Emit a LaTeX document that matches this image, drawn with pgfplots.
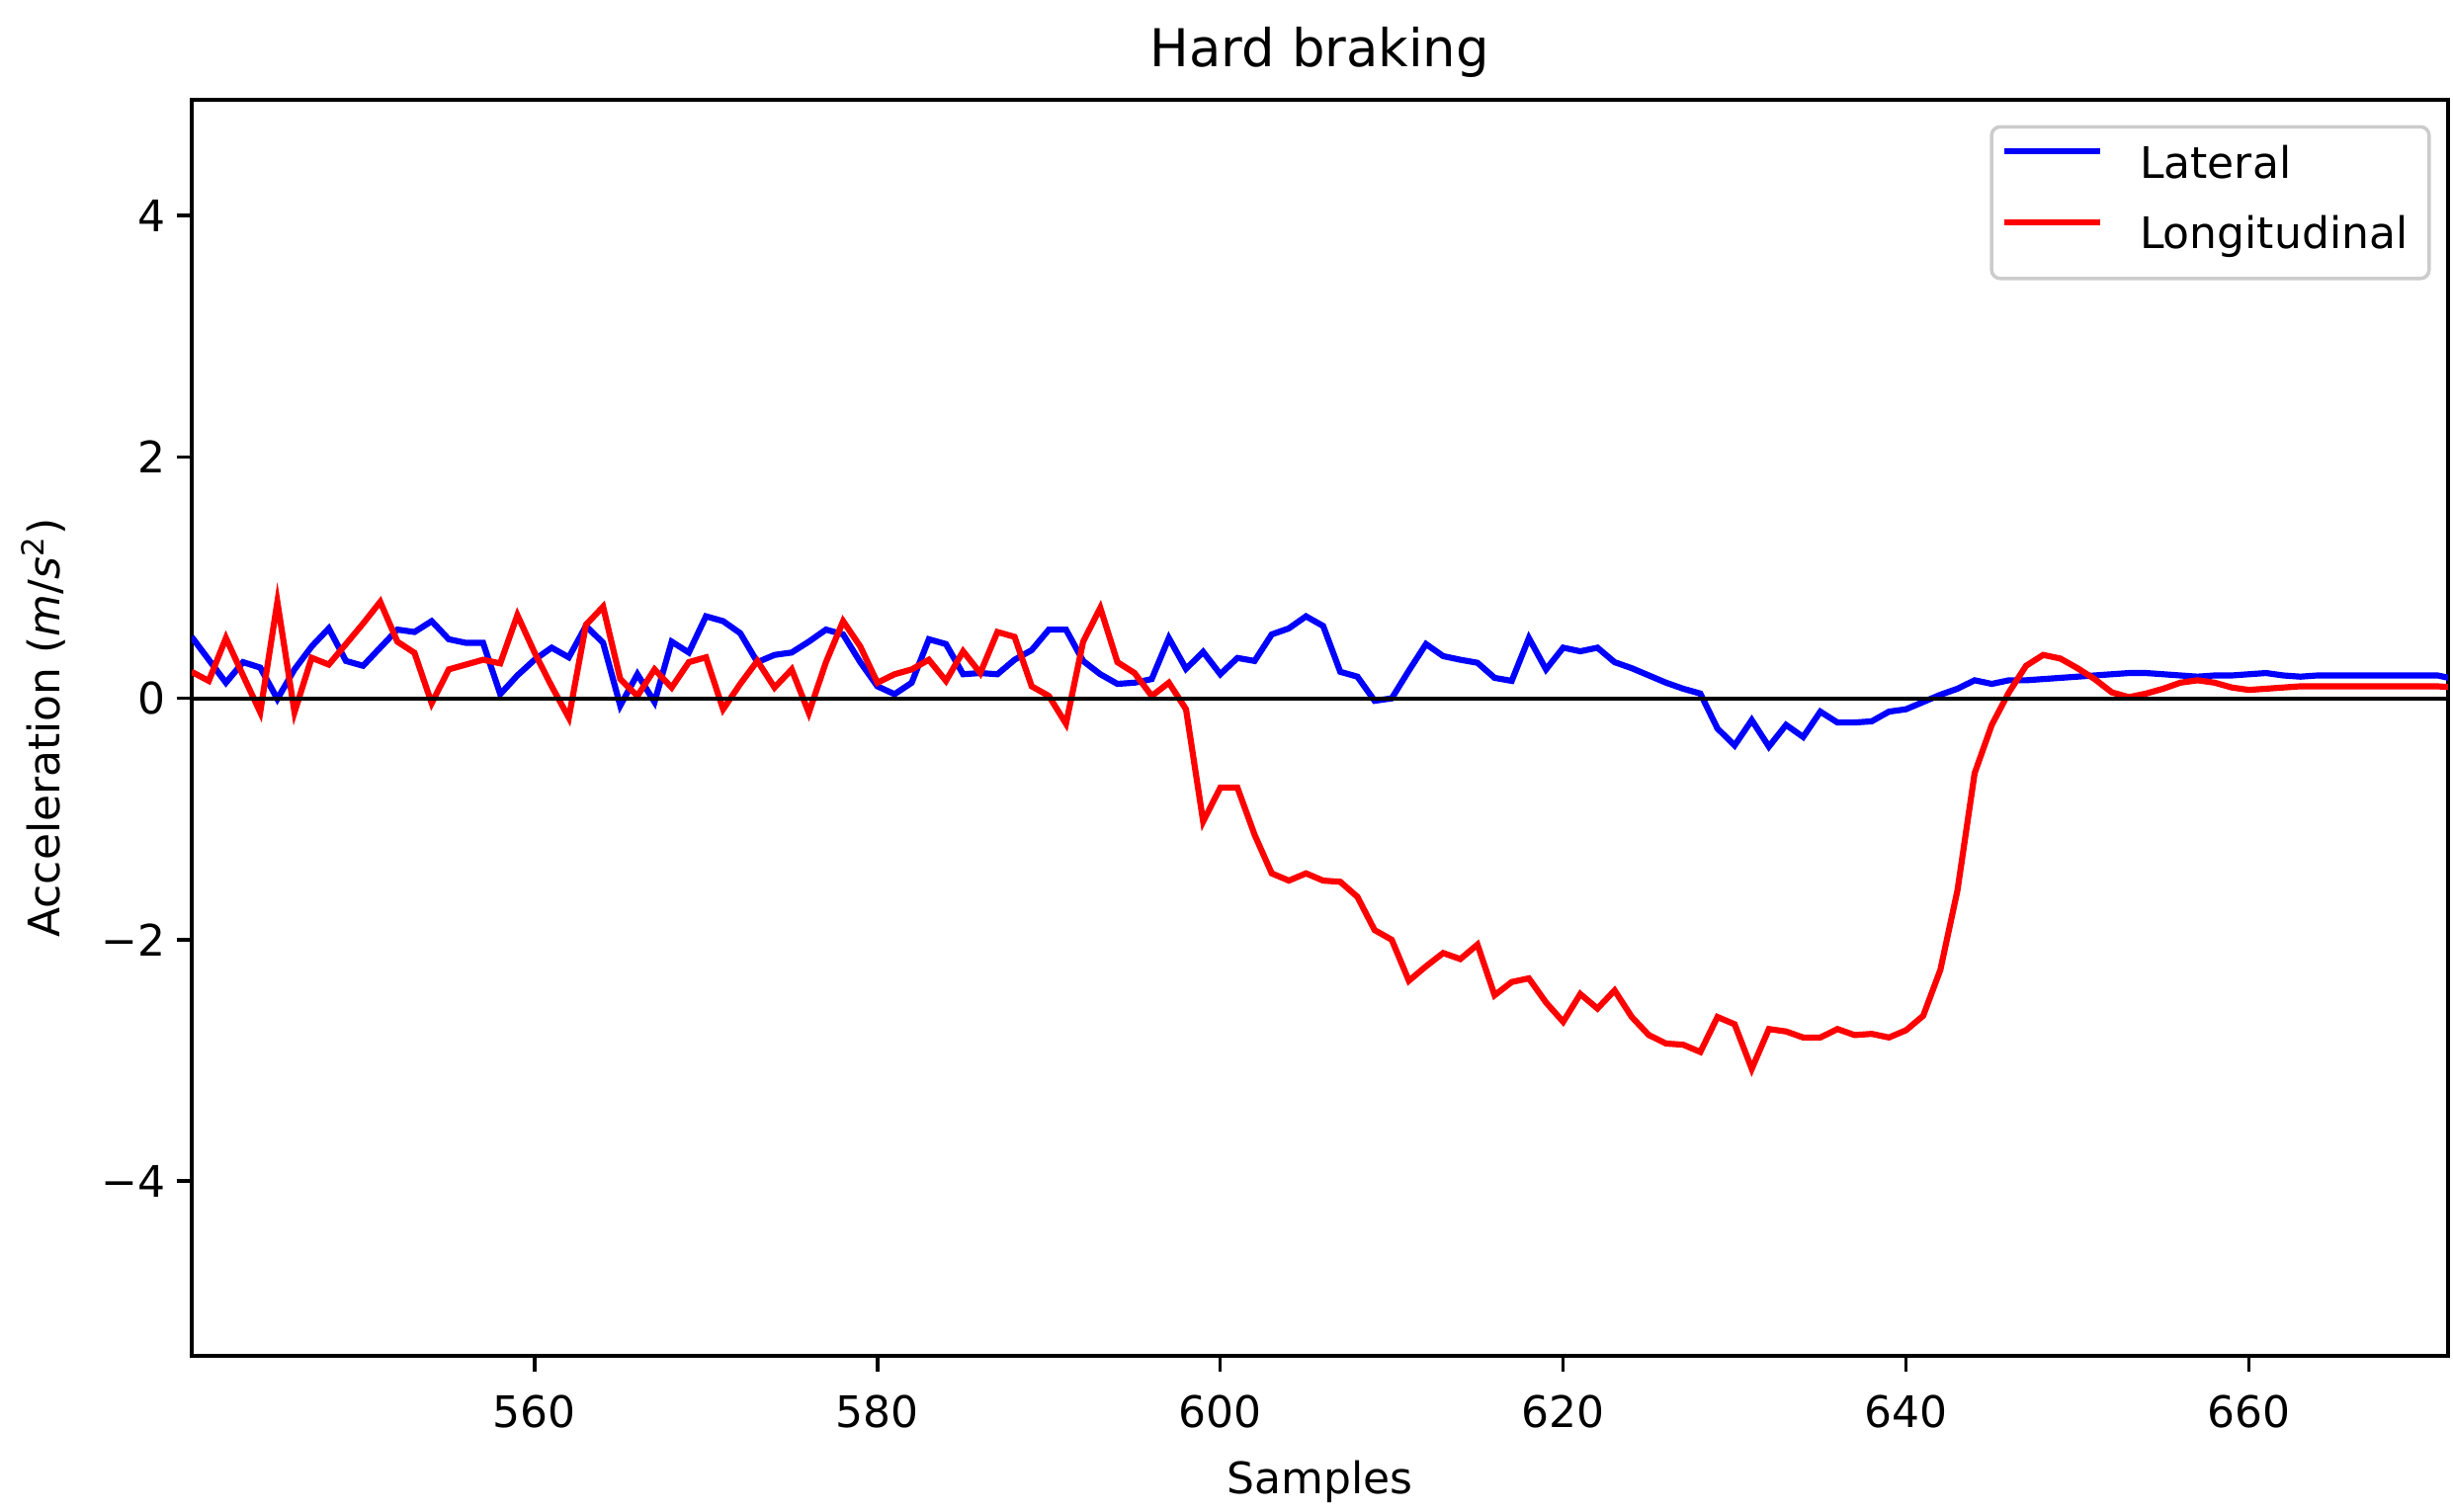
\documentclass[border=0pt]{standalone}
\usepackage{fontspec}
\setmainfont{DejaVu Sans}
\usepackage{pgfplots}
\pgfplotsset{compat=1.18}
\newcommand{\tenpt}{\fontsize{10}{12}\selectfont}
\begin{document}
\begin{tikzpicture}
\begin{axis}[
  scale only axis, width=518.8pt, height=288.9pt,
  xmin=540, xmax=671.6, ymin=-5.45, ymax=4.96,
  axis line style={black, line width=0.8pt},
  tick align=outside, xtick pos=left, ytick pos=left,
  major tick length=3.5pt,
  tick style={black, line width=0.8pt},
  xtick={560,580,600,620,640,660},
  xticklabels={560,580,600,620,640,660},
  ytick={-4,-2,0,2,4},
  yticklabels={−4,−2,0,2,4},
  xticklabel style={font=\tenpt, anchor=base, inner sep=0pt, yshift=-12.85pt},
  yticklabel style={font=\tenpt, anchor=east, inner sep=0pt, xshift=-2.4pt},
  title={Hard braking},
  title style={font=\fontsize{12}{14.4}\selectfont, at={(axis description cs:0.5,1)}, anchor=base, yshift=1.5pt, inner sep=0pt},
  xlabel={Samples},
  xlabel style={font=\tenpt, at={(axis description cs:0.5,0)}, anchor=base, yshift=-31.6pt, inner sep=0pt},
  ylabel={Acceleration (\textit{m}/\textit{s}\textsuperscript{2})},
  ylabel style={font=\tenpt, at={(axis description cs:-0.0657,0.5)}, anchor=center, inner sep=0pt},
  legend style={at={(1,1)}, anchor=north east, xshift=-3.9pt, yshift=-5.8pt,
    draw=black!20, line width=0.8pt, rounded corners=2pt, fill=white, fill opacity=0.8, text opacity=1,
    font=\tenpt, inner xsep=4.9pt, inner ysep=4.5pt, row sep=6.7pt, column sep=8.4pt,
    nodes={inner sep=0pt, text height=7.3pt, text depth=2.3pt}},
  legend cell align=left,
  legend image code/.code={\path (0pt,0pt) (19.4pt,0pt); \draw[#1, overlay] (-2.6pt,3.7pt) -- (19.4pt,3.7pt);},
]
\addplot[blue, line width=1.4pt] coordinates {
(540,0.51)(541,0.32)(542,0.13)(543,0.30)(544,0.255)(545,-0.005)(546,0.24)(547,0.43)(548,0.58)(549,0.31)
(550,0.27)(551,0.42)(552,0.57)(553,0.55)(554,0.64)(555,0.49)(556,0.46)(557,0.46)(558,0.035)(559,0.19)
(560,0.32)(561,0.42)(562,0.34)(563,0.60)(564,0.46)(565,-0.06)(566,0.2)(567,-0.03)(568,0.47)(569,0.38)
(570,0.68)(571,0.64)(572,0.54)(573,0.30)(574,0.36)(575,0.38)(576,0.47)(577,0.57)(578,0.53)(579,0.30)
(580,0.10)(581,0.035)(582,0.13)(583,0.49)(584,0.45)(585,0.2)(586,0.21)(587,0.2)(588,0.32)(589,0.40)
(590,0.57)(591,0.57)(592,0.31)(593,0.2)(594,0.12)(595,0.13)(596,0.16)(597,0.5)(598,0.245)(599,0.385)
(600,0.2)(601,0.335)(602,0.31)(603,0.53)(604,0.58)(605,0.68)(606,0.6)(607,0.22)(608,0.18)(609,-0.02)
(610,0.0)(611,0.23)(612,0.45)(613,0.35)(614,0.32)(615,0.295)(616,0.17)(617,0.145)(618,0.5)(619,0.24)
(620,0.42)(621,0.39)(622,0.42)(623,0.30)(624,0.25)(625,0.19)(626,0.13)(627,0.08)(628,0.04)(629,-0.25)
(630,-0.39)(631,-0.18)(632,-0.40)(633,-0.22)(634,-0.32)(635,-0.11)(636,-0.20)(637,-0.20)(638,-0.19)(639,-0.11)
(640,-0.09)(641,-0.03)(642,0.03)(643,0.08)(644,0.15)(645,0.12)(646,0.15)(647,0.15)(648,0.16)(649,0.17)
(650,0.18)(651,0.19)(652,0.2)(653,0.21)(654,0.21)(655,0.2)(656,0.19)(657,0.18)(658,0.19)(659,0.19)
(660,0.2)(661,0.21)(662,0.19)(663,0.18)(664,0.19)(665,0.19)(666,0.19)(667,0.19)(668,0.19)(669,0.19)
(670,0.19)(671,0.19)(672,0.16)
};
\addlegendentry{Lateral}
\addplot[red, line width=1.4pt] coordinates {
(540,0.22)(541,0.145)(542,0.5)(543,0.19)(544,-0.115)(545,0.80)(546,-0.115)(547,0.336)(548,0.28)(549,0.45)
(550,0.62)(551,0.80)(552,0.47)(553,0.377)(554,-0.04)(555,0.24)(556,0.28)(557,0.32)(558,0.29)(559,0.69)
(560,0.38)(561,0.10)(562,-0.16)(563,0.61)(564,0.76)(565,0.16)(566,0.02)(567,0.24)(568,0.09)(569,0.30)
(570,0.34)(571,-0.09)(572,0.12)(573,0.31)(574,0.09)(575,0.24)(576,-0.12)(577,0.30)(578,0.64)(579,0.43)
(580,0.13)(581,0.2)(582,0.24)(583,0.32)(584,0.145)(585,0.39)(586,0.21)(587,0.55)(588,0.51)(589,0.10)
(590,0.02)(591,-0.21)(592,0.47)(593,0.75)(594,0.30)(595,0.21)(596,0.02)(597,0.13)(598,-0.09)(599,-1.02)
(600,-0.74)(601,-0.74)(602,-1.13)(603,-1.45)(604,-1.51)(605,-1.45)(606,-1.51)(607,-1.52)(608,-1.645)(609,-1.92)
(610,-2.0)(611,-2.34)(612,-2.22)(613,-2.11)(614,-2.16)(615,-2.04)(616,-2.46)(617,-2.35)(618,-2.32)(619,-2.52)
(620,-2.68)(621,-2.45)(622,-2.57)(623,-2.42)(624,-2.64)(625,-2.79)(626,-2.86)(627,-2.87)(628,-2.93)(629,-2.64)
(630,-2.70)(631,-3.07)(632,-2.74)(633,-2.76)(634,-2.81)(635,-2.81)(636,-2.74)(637,-2.79)(638,-2.78)(639,-2.81)
(640,-2.75)(641,-2.63)(642,-2.25)(643,-1.59)(644,-0.62)(645,-0.22)(646,0.05)(647,0.27)(648,0.36)(649,0.33)
(650,0.25)(651,0.16)(652,0.05)(653,0.01)(654,0.04)(655,0.08)(656,0.13)(657,0.15)(658,0.13)(659,0.09)
(660,0.07)(661,0.08)(662,0.09)(663,0.10)(664,0.10)(665,0.10)(666,0.10)(667,0.10)(668,0.10)(669,0.10)
(670,0.10)(671,0.10)(672,0.09)
};
\addlegendentry{Longitudinal}
\addplot[black, line width=0.9pt, forget plot] coordinates {(540,0) (671.6,0)};
\end{axis}
\pgfresetboundingbox
\path[use as bounding box] ([shift={(-44.07pt,-35.8pt)}]current axis.south west) rectangle ([shift={(1.2pt,22.95pt)}]current axis.north east);
\end{tikzpicture}
\end{document}
